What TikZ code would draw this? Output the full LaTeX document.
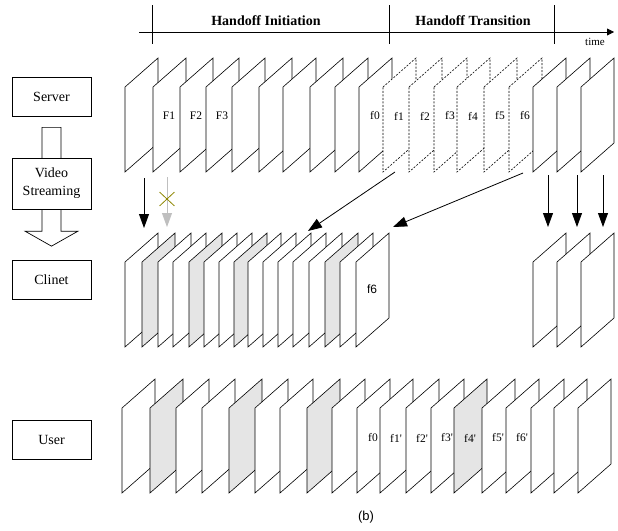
\documentclass[tikz,border=0pt]{standalone}
\usepackage{fontspec}
\setmainfont{Liberation Serif}
\newfontfamily\sansfont{Liberation Sans}
\usetikzlibrary{arrows.meta,calc,shapes.misc}

\begin{document}
\begin{tikzpicture}[x=1pt,y=-1pt,
  box/.style={draw,line width=0.7pt,fill=white,minimum width=79pt,minimum height=39pt,inner sep=0pt,font=\fontsize{14}{18}\selectfont},
  phase/.style={font=\bfseries\fontsize{14}{16}\selectfont},
  frm/.style={draw,line width=0.6pt,fill=white},
  dimfrm/.style={frm,fill=black!10},
  dashfrm/.style={frm,dash pattern=on 2pt off 1.5pt},
  flbl/.style={font=\fontsize{11.5}{13}\selectfont,inner sep=0pt},
  conn/.style={line width=0.8pt,-{Triangle[length=14pt,width=10pt]}}]
  \useasboundingbox (0,0) rectangle (618,530);
  % time line
  \coordinate (t0) at (139,32);
  \coordinate (t1) at (614,32);
  \draw[line width=0.8pt,-{Triangle[length=7pt,width=7pt]}] (t0) -- (t1);
  \foreach \x in {152,389,554} \draw[line width=0.8pt] (\x,5) -- (\x,44);
  \node[phase] (init) at (266,21) {Handoff Initiation};
  \node[phase] (trans) at (473,21) {Handoff Transition};
  \node[font=\fontsize{11}{12}\selectfont] (time) at (595,42) {time};
  % server frames
  \foreach \x in {125,153,180,206,232,259,283,310,335,359}
    \path[frm] (\x,87) -- ++(33,-29) -- ++(0,85) -- ++(-33,29) -- cycle;
  \foreach \x in {383,409,434,457,484,509}
    \path[dashfrm] (\x,87) -- ++(33,-29) -- ++(0,85) -- ++(-33,29) -- cycle;
  \foreach \x in {533,557,581}
    \path[frm] (\x,87) -- ++(33,-29) -- ++(0,85) -- ++(-33,29) -- cycle;
  \foreach \x/\t [count=\n] in {153/F1,180/F2,206/F3,359/f0,383/f1,409/f2,434/f3,457/f4,484/f5,509/f6}
    \node[flbl] (s\n) at (\x+16,116) {\t};
  % client frames
  \foreach \x/\s in {125/frm,142/dimfrm,158/frm,173/frm,189/dimfrm,204/frm,219/frm,234/dimfrm,
      248/frm,263/frm,278/frm,293/frm,309/frm,325/dimfrm,340/frm,356/frm,533/frm,557/frm,581/frm}
    \path[\s] (\x,262) -- ++(33,-29) -- ++(0,85) -- ++(-33,29) -- cycle;
  \node[font=\sansfont\fontsize{12}{14}\selectfont,inner sep=0pt] (c16) at (372,289) {f6};
  % user frames
  \foreach \x/\s in {122/frm,150/dimfrm,176/frm,202/frm,229/dimfrm,255/frm,280/frm,307/dimfrm,332/frm,
      357/frm,380/frm,406/frm,431/frm,454/dimfrm,482/frm,506/frm,531/frm,554/frm,578/frm}
    \path[\s] (\x,408) -- ++(33,-29) -- ++(0,85) -- ++(-33,29) -- cycle;
  \foreach \x/\t [count=\n] in {357/f0,380/f1\textquotesingle,406/f2\textquotesingle,431/f3\textquotesingle,
      454/f4\textquotesingle,482/f5\textquotesingle,506/f6\textquotesingle}
    \node[flbl] (u\n) at (\x+16,438) {\t};
  % left column
  \node[box] (server) at (51.5,96.5) {Server};
  \node[box] (clinet) at (51.5,280) {Clinet};
  \node[box] (user) at (51.5,439.5) {User};
  \draw[line width=0.7pt,fill=white] ($(server.south)+(-9.5,11)$) -- ($(clinet.north)+(-9.5,-29)$)
    -- ++(-17,0) -- ($(clinet.north)+(0,-14)$) -- ($(clinet.north)+(26.5,-29)$)
    -- ($(clinet.north)+(9.5,-29)$) -- ($(server.south)+(9.5,11)$) -- cycle;
  \node[box,minimum height=51pt,align=center] (video) at (51.5,183.5) {Video\\Streaming};
  % transfers
  \coordinate (a0) at (144,178);
  \coordinate (b0) at (144,228);
  \draw[conn] (a0) -- (b0);
  \coordinate (a1) at (167,177);
  \coordinate (b1) at (167,227);
  \draw[conn,black!25] (a1) -- (b1);
  \node[cross out,draw=olive,line width=0.8pt,minimum width=14pt,minimum height=13pt,inner sep=0pt] (lost) at (167,199) {};
  \coordinate (a2) at (395,172);
  \coordinate (b2) at (308,231);
  \draw[conn] (a2) -- (b2);
  \coordinate (a3) at (523,173);
  \coordinate (b3) at (393,227);
  \draw[conn] (a3) -- (b3);
  \foreach \x [count=\n from 4] in {548,577,603} {
    \coordinate (a\n) at (\x,175);
    \coordinate (b\n) at (\x,227);
    \draw[conn] (a\n) -- (b\n);
  }
  \node[font=\sansfont\fontsize{13}{15}\selectfont] (cap) at (366,517) {(b)};
\end{tikzpicture}
\end{document}
